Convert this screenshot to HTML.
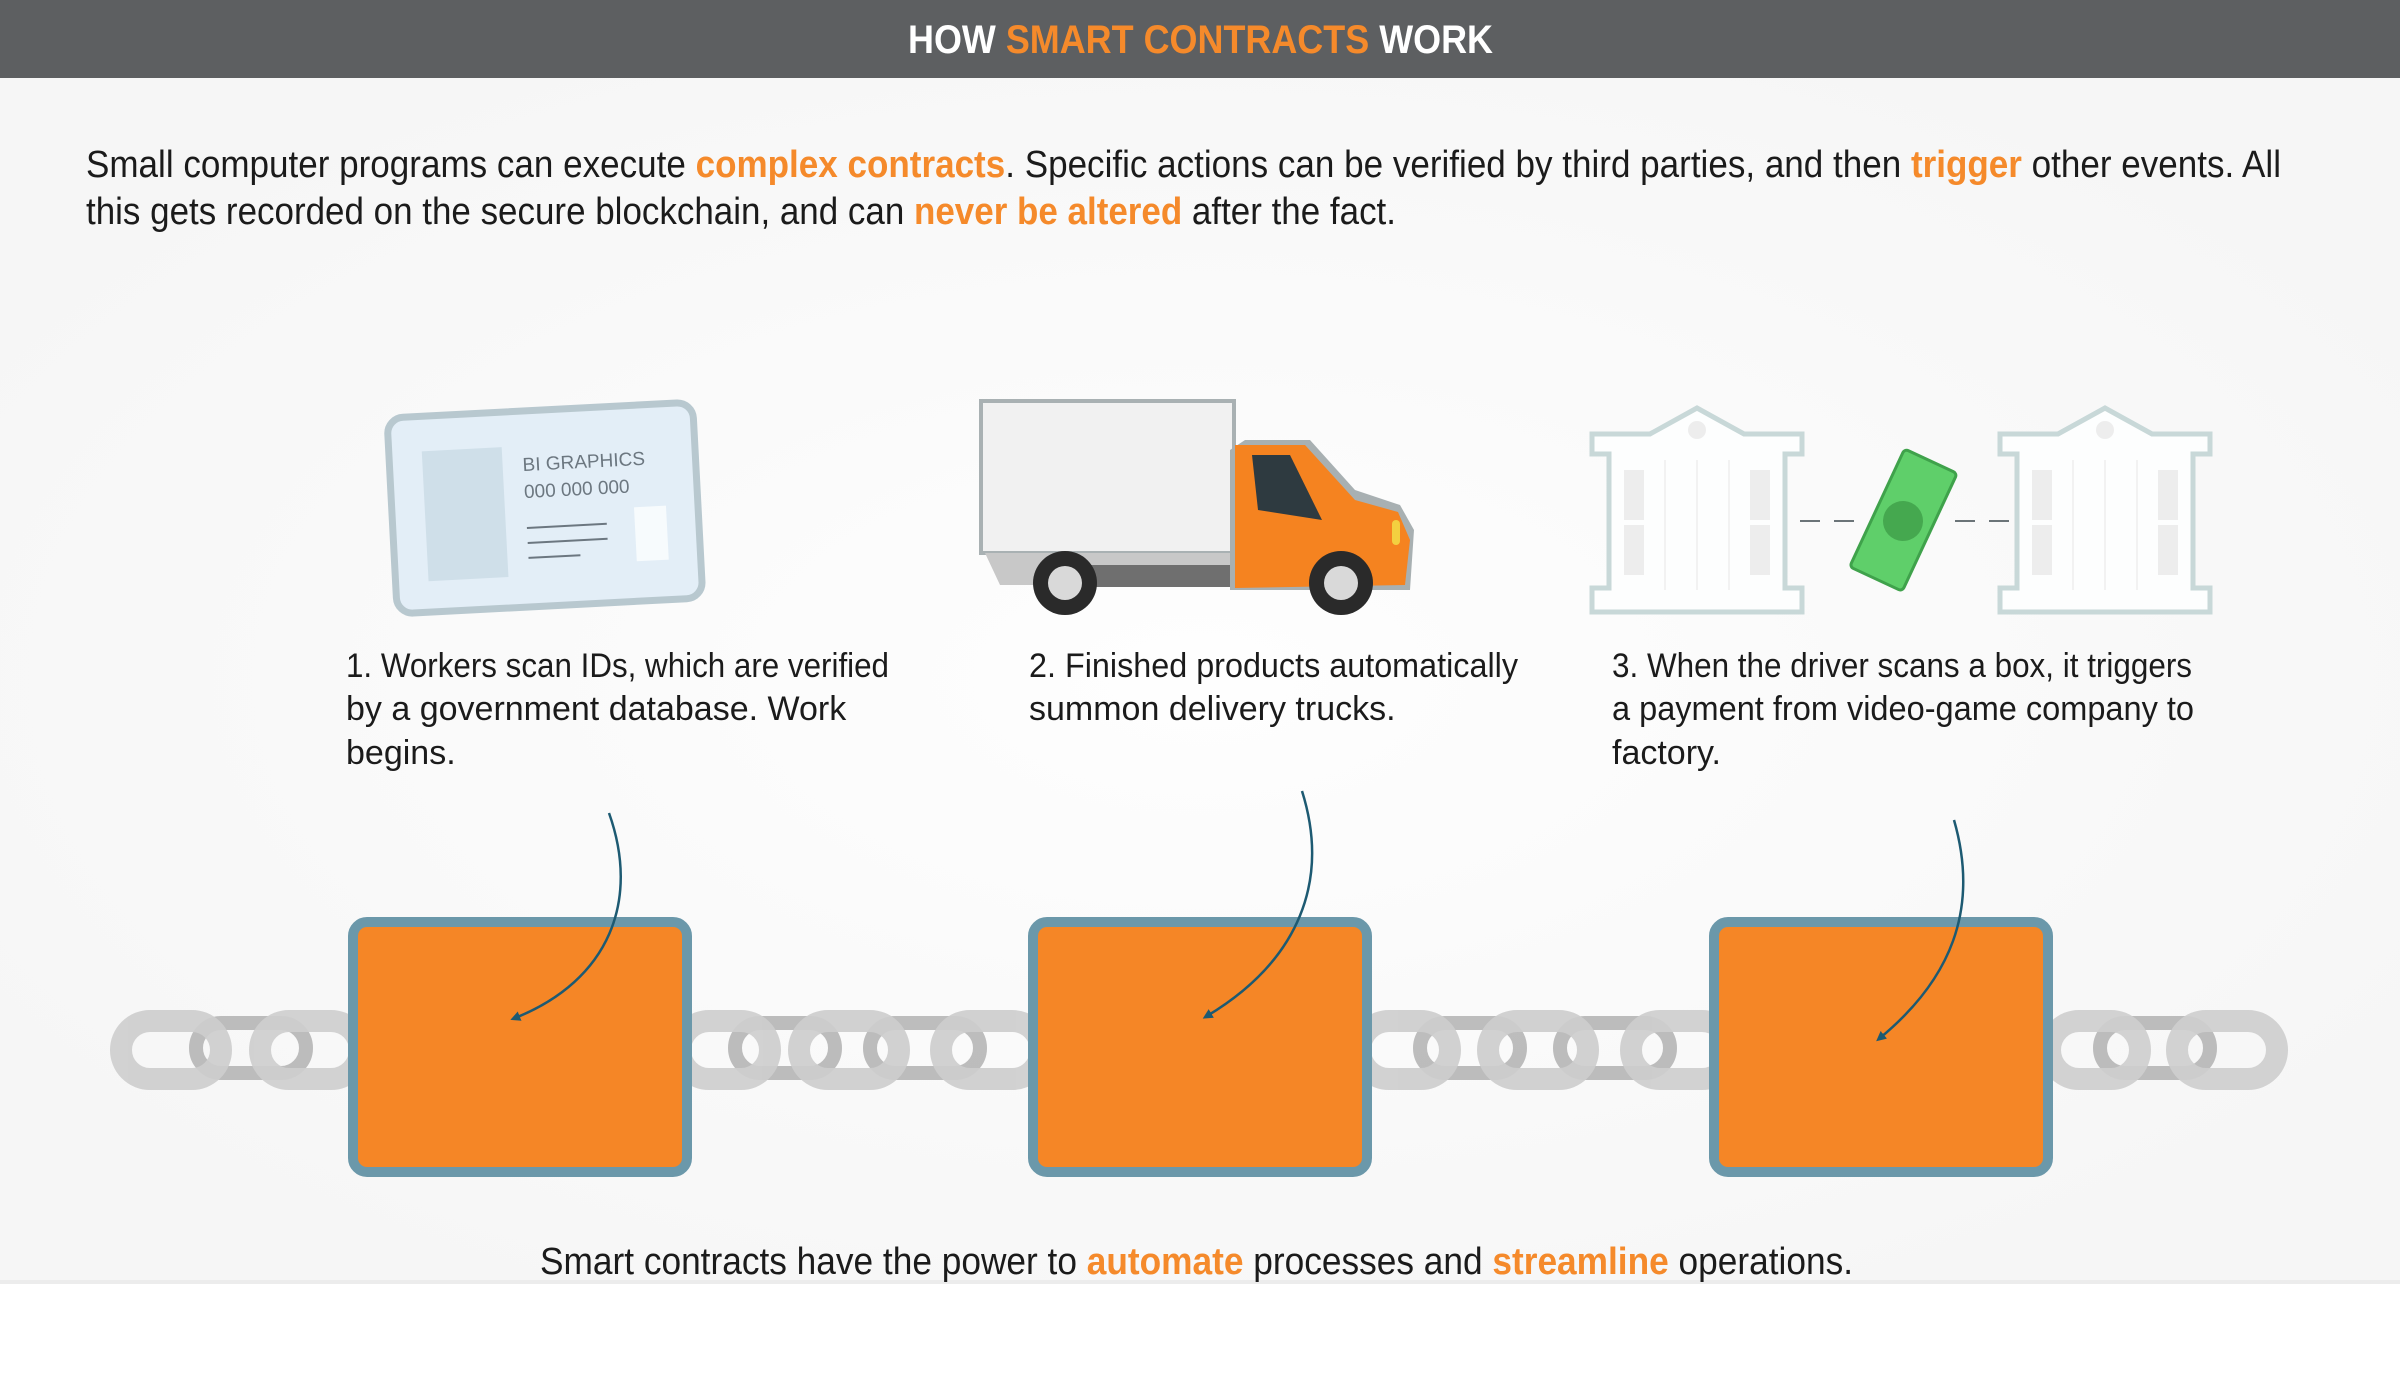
<!DOCTYPE html>
<html><head><meta charset="utf-8"><style>
html,body{margin:0;padding:0;background:#fff;}
svg{display:block;}
text{font-family:"Liberation Sans",sans-serif;}
</style></head><body>
<svg width="2400" height="1381" viewBox="0 0 2400 1381" xmlns="http://www.w3.org/2000/svg">
<defs>
<radialGradient id="bg" cx="50%" cy="50%" r="60%">
<stop offset="0" stop-color="#fefefe"/><stop offset="1" stop-color="#f6f6f6"/>
</radialGradient>
<marker id="ah" markerWidth="10" markerHeight="10" refX="5" refY="5" orient="auto" markerUnits="userSpaceOnUse" viewBox="0 0 10 10">
<path d="M0,0 L10,5 L0,10 z" fill="#1d5a72"/></marker>
</defs>
<rect x="0" y="78" width="2400" height="1205" fill="url(#bg)"/>
<rect x="0" y="1280" width="2400" height="4" fill="#ececec"/>
<rect x="0" y="1284" width="2400" height="97" fill="#fff"/>
<!-- header -->
<rect x="0" y="0" width="2400" height="78" fill="#5d5f61"/>
<text x="908" y="53" textLength="585" lengthAdjust="spacingAndGlyphs" font-size="40" font-weight="bold" fill="#fff">HOW <tspan fill="#f58a2b">SMART CONTRACTS</tspan> WORK</text>
<!-- paragraph -->
<g font-size="38" fill="#1b1b1b">
<text x="86" y="177" textLength="2195" lengthAdjust="spacingAndGlyphs">Small computer programs can execute <tspan fill="#f58a2b" font-weight="bold">complex contracts</tspan>. Specific actions can be verified by third parties, and then <tspan fill="#f58a2b" font-weight="bold">trigger</tspan> other events. All</text>
<text x="86" y="224" textLength="1310" lengthAdjust="spacingAndGlyphs">this gets recorded on the secure blockchain, and can <tspan fill="#f58a2b" font-weight="bold">never be altered</tspan> after the fact.</text>
</g>
<!-- card -->
<g transform="rotate(-3 545 510)">
<rect x="392" y="410" width="306" height="196" rx="16" fill="#e3eef7" stroke="#b8c8cf" stroke-width="7"/>
<rect x="425" y="445" width="80" height="130" fill="#cfdfe9"/>
<text x="525" y="470" font-size="19" fill="#6c7780">BI GRAPHICS</text>
<text x="525" y="497" font-size="19" fill="#6c7780">000 000 000</text>
<line x1="526" y1="527" x2="606" y2="527" stroke="#6c7780" stroke-width="2"/>
<line x1="526" y1="542" x2="606" y2="542" stroke="#6c7780" stroke-width="2"/>
<line x1="526" y1="557" x2="578" y2="557" stroke="#6c7780" stroke-width="2"/>
<rect x="634" y="512" width="32" height="54" fill="#f7fbfd"/>
</g>
<!-- truck -->
<g>
<rect x="981" y="401" width="253" height="152" fill="#f1f1f1" stroke="#a9b1b3" stroke-width="4"/>
<path d="M985,553 L1234,553 L1234,585 L1000,585 Z" fill="#c8c8c8"/>
<rect x="1040" y="565" width="200" height="22" fill="#6f6f6f"/>
<path d="M1230,490 L1230,590 L1410,590 L1414,530 L1400,505 L1355,490 L1310,440 L1245,440 L1230,450 Z" fill="#a8b0b2"/>
<path d="M1235,445 L1305,445 L1355,500 L1398,512 L1410,540 L1405,585 L1235,588 Z" fill="#f58320"/>
<path d="M1252,455 L1290,455 L1322,520 L1258,510 Z" fill="#2e3a40"/>
<rect x="1392" y="520" width="8" height="25" rx="4" fill="#f3d040"/>
<circle cx="1065" cy="583" r="32" fill="#2a2a2a"/><circle cx="1065" cy="583" r="17" fill="#d9d9d9"/>
<circle cx="1341" cy="583" r="32" fill="#2a2a2a"/><circle cx="1341" cy="583" r="17" fill="#d9d9d9"/>
</g>
<!-- banks -->
<g fill="#fdfefe" stroke="#c8d8d8" stroke-width="5">
<path d="M1592,434 L1650,434 L1697,408 L1744,434 L1802,434 L1802,454 L1785,454 L1785,588 L1802,588 L1802,612 L1592,612 L1592,588 L1609,588 L1609,454 L1592,454 Z"/>
<path d="M2000,434 L2058,434 L2105,408 L2152,434 L2210,434 L2210,454 L2193,454 L2193,588 L2210,588 L2210,612 L2000,612 L2000,588 L2017,588 L2017,454 L2000,454 Z"/>
</g>
<g fill="#ededed"><circle cx="1697" cy="430" r="9"/><circle cx="2105" cy="430" r="9"/>
<rect x="1624" y="470" width="20" height="50"/><rect x="1750" y="470" width="20" height="50"/>
<rect x="1624" y="525" width="20" height="50"/><rect x="1750" y="525" width="20" height="50"/>
<rect x="2032" y="470" width="20" height="50"/><rect x="2158" y="470" width="20" height="50"/>
<rect x="2032" y="525" width="20" height="50"/><rect x="2158" y="525" width="20" height="50"/>
<g stroke="#f2f2f2" stroke-width="2" fill="none"><line x1="1665" y1="460" x2="1665" y2="590"/><line x1="1697" y1="460" x2="1697" y2="590"/><line x1="1729" y1="460" x2="1729" y2="590"/><line x1="2073" y1="460" x2="2073" y2="590"/><line x1="2105" y1="460" x2="2105" y2="590"/><line x1="2137" y1="460" x2="2137" y2="590"/></g></g>
<g stroke="#6b7478" stroke-width="2" stroke-dasharray="20,14"><line x1="1800" y1="521" x2="1855" y2="521"/><line x1="1955" y1="521" x2="2010" y2="521"/></g>
<g transform="rotate(25 1903 521)"><rect x="1874" y="455" width="58" height="130" rx="4" fill="#5fcf6a" stroke="#3fa24b" stroke-width="3"/><circle cx="1903" cy="521" r="20" fill="#45a84f"/></g>
<!-- captions -->
<g font-size="34" fill="#1b1b1b">
<text x="346" y="677" textLength="543" lengthAdjust="spacingAndGlyphs">1. Workers scan IDs, which are verified</text>
<text x="346" y="720">by a government database. Work</text>
<text x="346" y="764">begins.</text>
<text x="1029" y="677" textLength="489" lengthAdjust="spacingAndGlyphs">2. Finished products automatically</text>
<text x="1029" y="720">summon delivery trucks.</text>
<text x="1612" y="677" textLength="580" lengthAdjust="spacingAndGlyphs">3. When the driver scans a box, it triggers</text>
<text x="1612" y="720" textLength="582" lengthAdjust="spacingAndGlyphs">a payment from video-game company to</text>
<text x="1612" y="764">factory.</text>
</g>
<!-- chain dark links -->
<g fill="none" stroke="#b2b2b2" stroke-width="14" opacity="0.85">
<rect x="196" y="1023" width="110" height="50" rx="25"/>
<rect x="735" y="1023" width="100" height="50" rx="25"/>
<rect x="870" y="1023" width="110" height="50" rx="25"/>
<rect x="1420" y="1023" width="100" height="50" rx="25"/>
<rect x="1560" y="1023" width="110" height="50" rx="25"/>
<rect x="2100" y="1023" width="110" height="50" rx="25"/>
</g>
<g fill="none" stroke="#cecece" stroke-width="22" opacity="0.92">
<rect x="121" y="1021" width="100" height="58" rx="29"/>
<rect x="260" y="1021" width="100" height="58" rx="29"/>
<rect x="680" y="1021" width="90" height="58" rx="29"/>
<rect x="799" y="1021" width="100" height="58" rx="29"/>
<rect x="941" y="1021" width="100" height="58" rx="29"/>
<rect x="1360" y="1021" width="90" height="58" rx="29"/>
<rect x="1488" y="1021" width="100" height="58" rx="29"/>
<rect x="1631" y="1021" width="100" height="58" rx="29"/>
<rect x="2050" y="1021" width="90" height="58" rx="29"/>
<rect x="2177" y="1021" width="100" height="58" rx="29"/>
</g>
<!-- boxes -->
<g fill="#f58626" stroke="#6b98aa" stroke-width="10">
<rect x="353" y="922" width="334" height="250" rx="14"/>
<rect x="1033" y="922" width="334" height="250" rx="14"/>
<rect x="1714" y="922" width="334" height="250" rx="14"/>
</g>
<!-- arrows -->
<g fill="none" stroke="#1d5a72" stroke-width="2.5" marker-end="url(#ah)">
<path d="M609,813 C640,900 610,980 515,1018"/>
<path d="M1302,791 C1330,880 1300,960 1207,1016"/>
<path d="M1954,820 C1980,910 1950,980 1880,1038"/>
</g>
<!-- bottom -->
<text x="540" y="1274" textLength="1313" lengthAdjust="spacingAndGlyphs" font-size="38" fill="#1b1b1b">Smart contracts have the power to <tspan fill="#f58a2b" font-weight="bold">automate</tspan> processes and <tspan fill="#f58a2b" font-weight="bold">streamline</tspan> operations.</text>
</svg>
</body></html>
